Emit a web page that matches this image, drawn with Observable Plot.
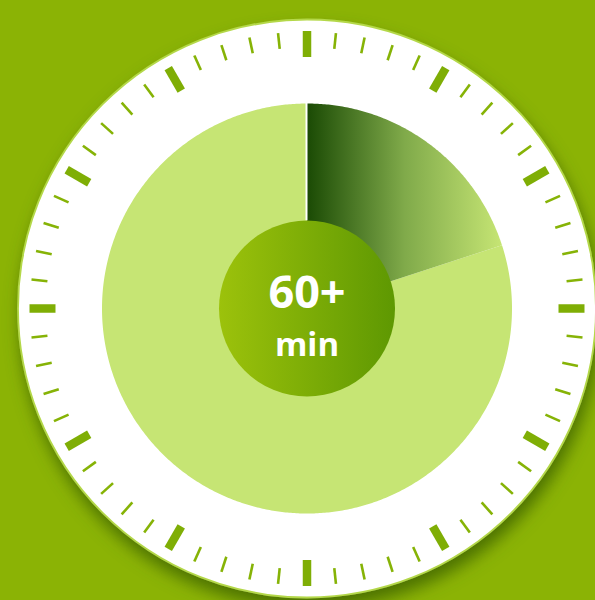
<!DOCTYPE html>
<html>
<head>
<meta charset="utf-8">
<script src="https://cdn.jsdelivr.net/npm/d3@7"></script>
<script src="https://cdn.jsdelivr.net/npm/@observablehq/plot@0.6"></script>
<style>
  html, body { margin: 0; padding: 0; background: #8bb305; overflow: hidden; }
  #chart svg { display: block; }
</style>
</head>
<body>
<div id="chart"></div>
<script>
// ---- data ----
const segments = ["elapsed", "remaining"];
const segmentMinutes = [12, 48];          // minutes of a 60-minute dial
const dialMinutes = d3.range(60);         // one tick per minute
const majorEvery = 5;
const labelTop = "60+";
const labelBottom = "min";

// ---- layout (pixels) ----
const W = 595, H = 600, cx = 306.5, cy = 308;
const faceR = 289, pieR = 205, hubR = 88;
const majorIn = 251.5, majorOut = 277.5, minorIn = 261, minorOut = 277;

const pol = (m, r) => {
  const a = m / 60 * 2 * Math.PI;
  return {x: r * Math.sin(a), y: r * Math.cos(a)};
};
function slice(m0, m1, r) {
  const pts = [{x: 0, y: 0}];
  const steps = Math.max(2, Math.ceil((m1 - m0) * 12));
  for (let i = 0; i <= steps; i++) pts.push(pol(m0 + (m1 - m0) * i / steps, r));
  return pts;
}
let acc = 0;
const bounds = segmentMinutes.map((v, i) => { const s = acc; acc += v; return {name: segments[i], m0: s, m1: acc}; });
const elapsed = bounds[0], remaining = bounds[1];

const ticks = dialMinutes.map(m => ({m, major: m % majorEvery === 0}));
const tickLink = (rin, rout) => ({
  x1: d => pol(d.m, rin).x, y1: d => pol(d.m, rin).y,
  x2: d => pol(d.m, rout).x, y2: d => pol(d.m, rout).y
});

const svg = Plot.plot({
  width: W, height: H, margin: 0,
  x: {domain: [-cx, W - cx], range: [0, W], axis: null},
  y: {domain: [cy, cy - H], range: [0, H], axis: null},
  style: {background: "#8bb305", overflow: "visible"},
  marks: [
    Plot.dot([{x: 0, y: 0}], {x: "x", y: "y", r: faceR, fill: "white", stroke: "#b4d84a", strokeWidth: 1.8}),
    Plot.link(ticks.filter(d => !d.major), {...tickLink(minorIn, minorOut), stroke: "#86b306", strokeWidth: 2.6}),
    Plot.link(ticks.filter(d => d.major), {...tickLink(majorIn, majorOut), stroke: "#7fae05", strokeWidth: 8.5}),
    Plot.line(slice(remaining.m0, remaining.m1, pieR), {x: "x", y: "y", curve: "linear-closed", fill: "#c6e574", stroke: "none"}),
    Plot.line(slice(elapsed.m0, elapsed.m1, pieR), {x: "x", y: "y", curve: "linear-closed", fill: "url(#sliceGrad)", stroke: "none"}),
    Plot.link([elapsed], {x1: d => pol(d.m0, hubR).x, y1: d => pol(d.m0, hubR).y, x2: d => pol(d.m0, pieR + 1).x, y2: d => pol(d.m0, pieR + 1).y, stroke: "white", strokeWidth: 2, dx: -0.5}),
    Plot.dot([{x: 0, y: 0}], {x: "x", y: "y", r: hubR, fill: "url(#hubGrad)", stroke: "none"}),
    Plot.text([labelTop], {x: () => 0, y: () => 15, text: d => d, fill: "white", fontSize: 45, fontWeight: "bold", fontFamily: "Open Sans", textAnchor: "middle"}),
    Plot.text([labelBottom], {x: () => 0, y: () => -37, text: d => d, fill: "white", fontSize: 33, fontWeight: "bold", fontFamily: "Open Sans", textAnchor: "middle"})
  ]
});

const defs = d3.select(svg).insert("defs", ":first-child");
const sg = defs.append("linearGradient").attr("id", "sliceGrad").attr("x1", 0).attr("x2", 1).attr("y1", 0).attr("y2", 0);
[[0, "#1a4a04"], [0.5, "#80aa4a"], [1, "#c6e574"]].forEach(([o, c]) => sg.append("stop").attr("offset", o).attr("stop-color", c));
const hg = defs.append("linearGradient").attr("id", "hubGrad").attr("x1", 0).attr("x2", 1).attr("y1", 0).attr("y2", 0);
[[0, "#9cc20b"], [1, "#5e9802"]].forEach(([o, c]) => hg.append("stop").attr("offset", o).attr("stop-color", c));
const f = defs.append("filter").attr("id", "faceShadow").attr("x", "-20%").attr("y", "-20%").attr("width", "140%").attr("height", "140%");
f.append("feDropShadow").attr("dx", 3).attr("dy", 10).attr("stdDeviation", 8).attr("flood-color", "#456c00").attr("flood-opacity", 0.9);
d3.select(svg).selectAll("circle")
  .filter(function() { return Math.abs(+this.getAttribute("r") - faceR) < 0.5; })
  .attr("filter", "url(#faceShadow)");

document.getElementById("chart").appendChild(svg);
</script>
</body>
</html>
